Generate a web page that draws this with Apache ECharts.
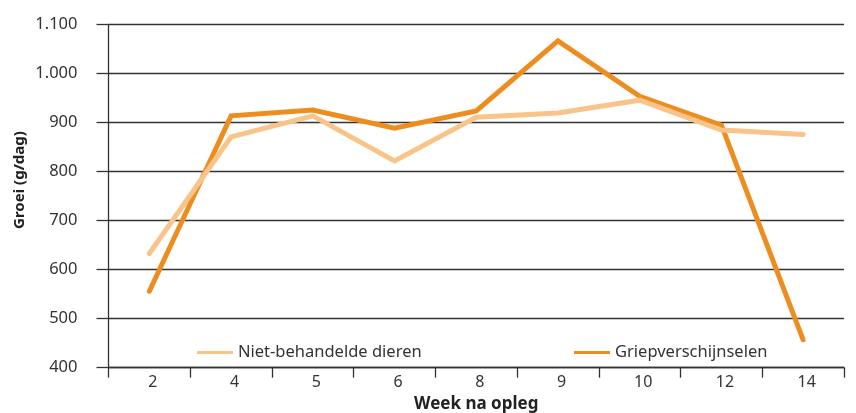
<!DOCTYPE html>
<html>
<head>
<meta charset="utf-8">
<script src="https://cdn.jsdelivr.net/npm/echarts@6/dist/echarts.min.js"></script>
<style>html,body{margin:0;padding:0;background:#fff}#c{width:856px;height:413px}</style>
</head>
<body>
<div id="c"></div>
<script>
var weeks = ['2', '4', '5', '6', '8', '9', '10', '12', '14'];
var nietBehandeld = [633, 871, 914, 822, 911, 920, 946, 885, 876];
var griep = [556, 914, 926, 889, 924, 1067, 954, 895, 457];
var seriesNames = ['Niet-behandelde dieren', 'Griepverschijnselen'];
var colors = ['#F8C48A', '#EE8D1F'];

var font = '"Noto Sans", sans-serif';
var chart = echarts.init(document.getElementById('c'));
chart.setOption({
  animation: false,
  textStyle: { fontFamily: font },
  grid: { left: 108.5, right: 12, top: 24.7, bottom: 45.3, containLabel: false, outerBoundsMode: 'none' },
  legend: [
    { data: [seriesNames[0]], left: 197, top: 344, padding: 0, icon: 'rect', itemWidth: 36, itemHeight: 3, itemGap: 4,
      textStyle: { fontSize: 16.5, color: '#333', fontFamily: font } },
    { data: [seriesNames[1]], left: 574, top: 344, padding: 0, icon: 'rect', itemWidth: 36, itemHeight: 3, itemGap: 4,
      textStyle: { fontSize: 16.5, color: '#333', fontFamily: font } }
  ],
  graphic: [
    { type: 'text', x: 20, y: 180, rotation: Math.PI / 2,
      style: { text: 'Groei (g/dag)', fontSize: 15, fontWeight: 'bold', fill: '#222', fontFamily: font,
               align: 'center', verticalAlign: 'middle' } }
  ],
  xAxis: {
    type: 'category', data: weeks, boundaryGap: true,
    name: 'Week na opleg', nameLocation: 'middle', nameGap: 27,
    nameTextStyle: { fontWeight: 'bold', fontSize: 17, color: '#222', fontFamily: font },
    axisLine: { lineStyle: { color: '#333', width: 1.3 } },
    axisTick: { show: true, length: 10, lineStyle: { color: '#333', width: 1.3 } },
    axisLabel: { fontSize: 16, color: '#333', margin: 7, padding: [0, 0, 0, 7] }
  },
  yAxis: {
    type: 'value', min: 400, max: 1100, interval: 100,
    axisLine: { show: true, lineStyle: { color: '#333', width: 1.3 } },
    axisTick: { show: true, length: 12, lineStyle: { color: '#333', width: 1.3 } },
    splitLine: { lineStyle: { color: '#333', width: 1.3 } },
    axisLabel: { fontSize: 16.5, color: '#333', margin: 31,
      formatter: function (v) { return String(v).replace(/\B(?=(\d{3})+(?!\d))/g, '.'); } }
  },
  series: [
    { name: seriesNames[1], type: 'line', data: griep, symbol: 'none', z: 2,
      lineStyle: { color: colors[1], width: 5, cap: 'round', join: 'miter' }, itemStyle: { color: colors[1] } },
    { name: seriesNames[0], type: 'line', data: nietBehandeld, symbol: 'none', z: 3,
      lineStyle: { color: colors[0], width: 5, cap: 'round', join: 'miter' }, itemStyle: { color: colors[0] } }
  ]
});
</script>
</body>
</html>
